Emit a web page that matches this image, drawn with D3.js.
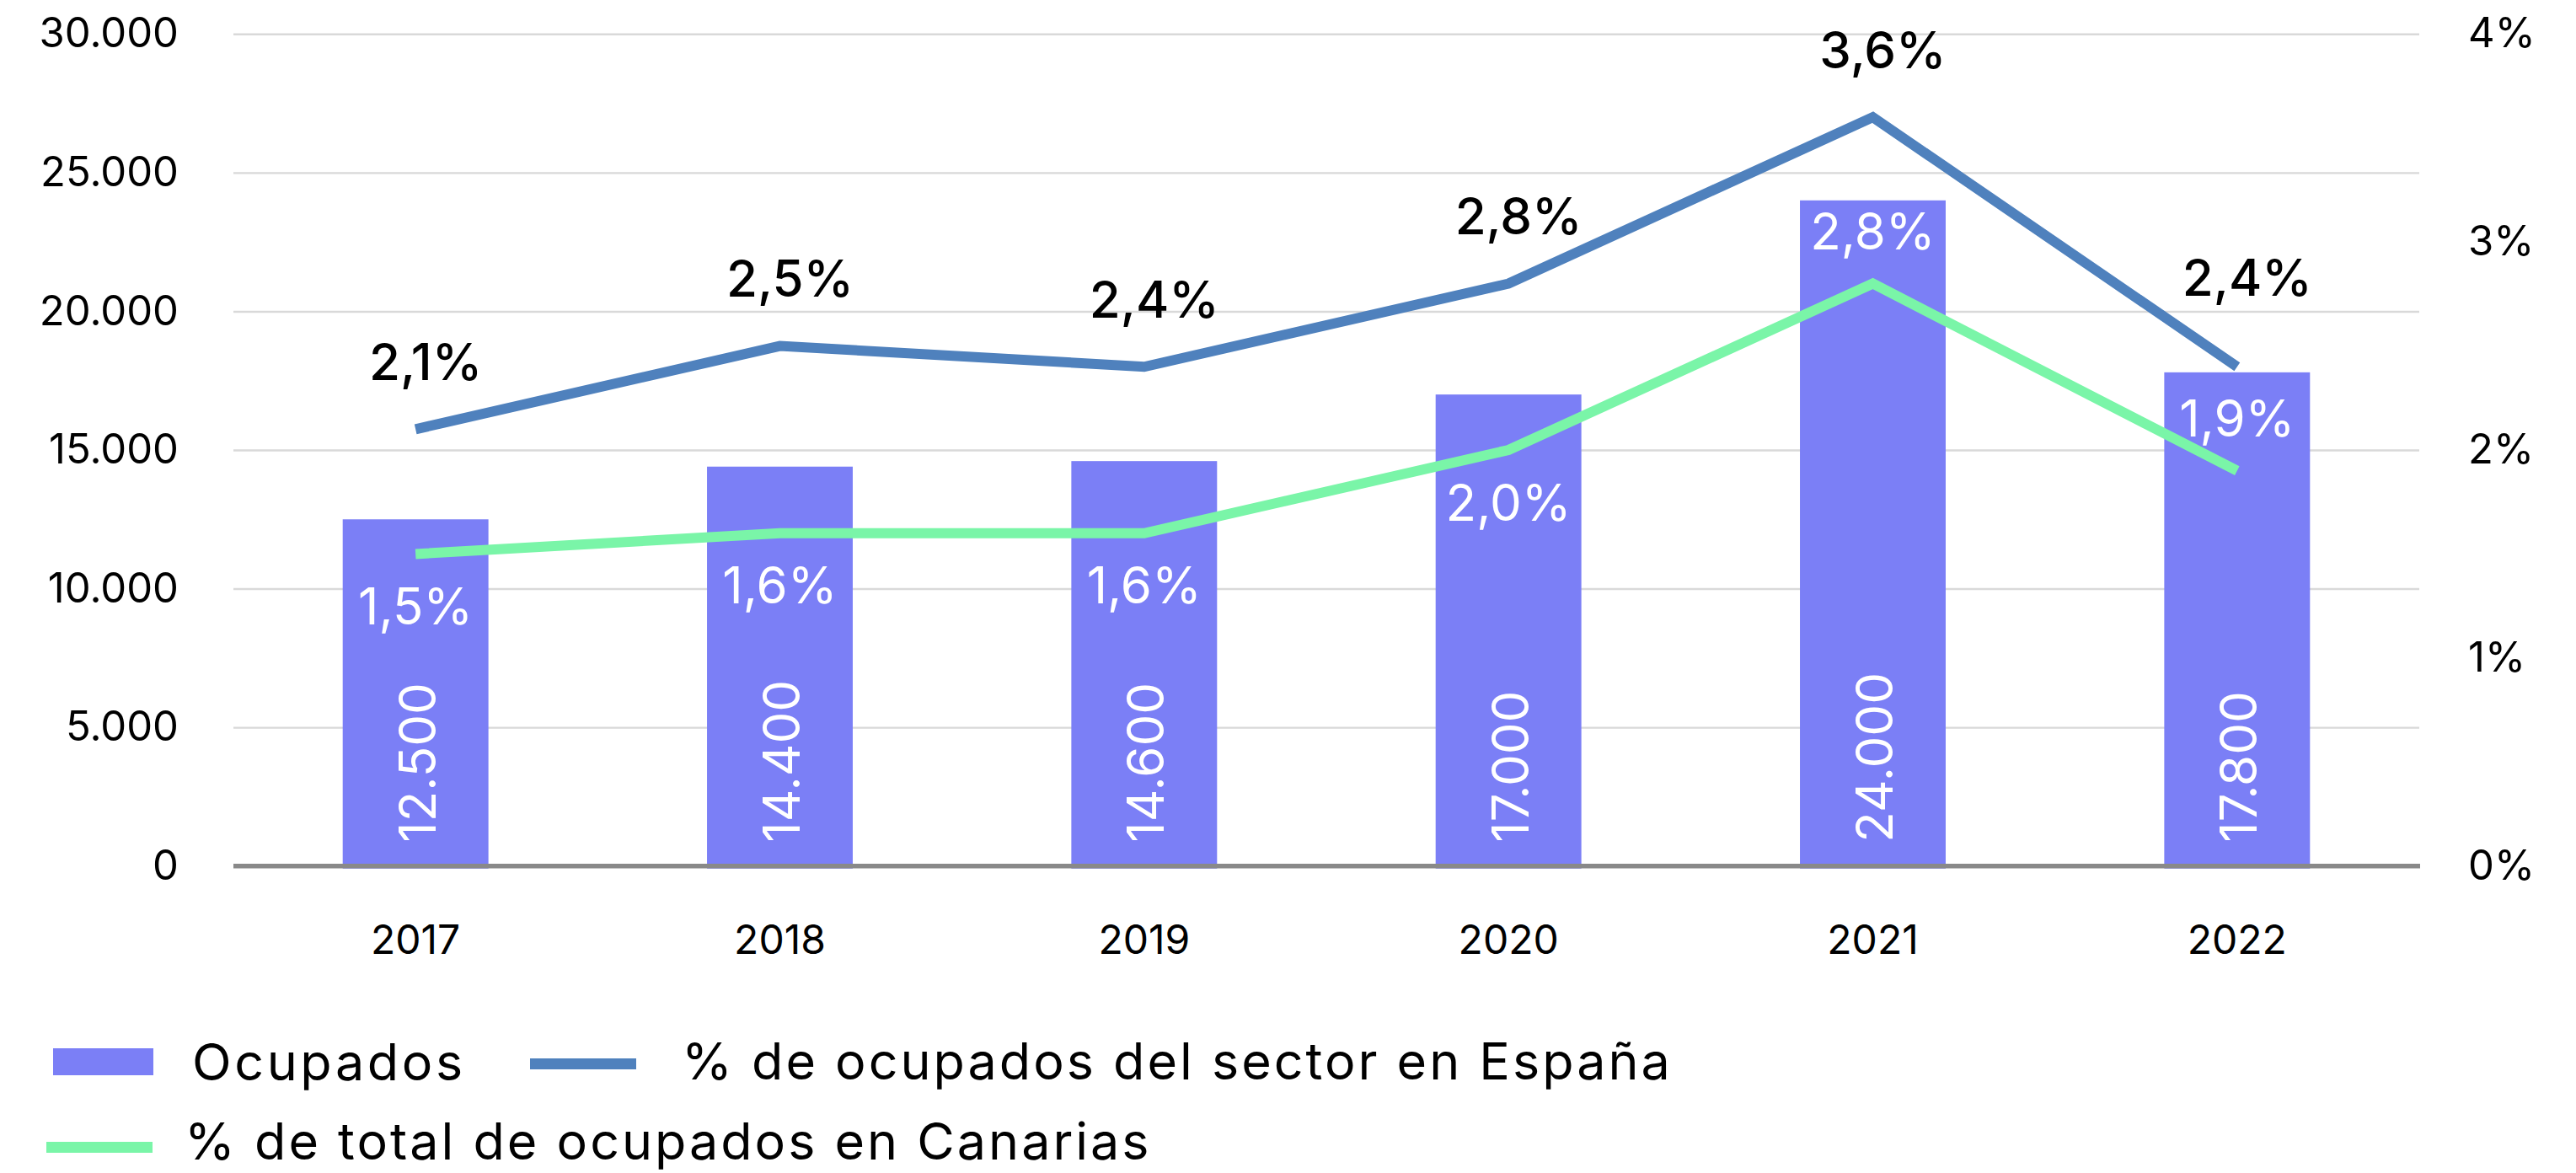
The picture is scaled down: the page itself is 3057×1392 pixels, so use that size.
<!DOCTYPE html>
<html lang="es">
<head>
<meta charset="utf-8">
<script src="https://cdn.jsdelivr.net/npm/d3@7"></script>
<style>
  html, body { margin: 0; padding: 0; background: #ffffff; }
  svg { display: block; font-family: Inter, "Noto Sans", sans-serif; }
</style>
</head>
<body>
<svg id="chart" width="3057" height="1392"></svg>
<script>
// Ocupados del sector y su peso relativo (2017-2022)
const years = ["2017", "2018", "2019", "2020", "2021", "2022"];
const ocupados = [12500, 14400, 14600, 17000, 24000, 17800];
const pctEspana = [2.1, 2.5, 2.4, 2.8, 3.6, 2.4];
const pctCanarias = [1.5, 1.6, 1.6, 2.0, 2.8, 1.9];
const leftTicks = [0, 5000, 10000, 15000, 20000, 25000, 30000];
const rightTicks = [0, 1, 2, 3, 4];
const legendLabels = ["Ocupados", "% de ocupados del sector en España", "% de total de ocupados en Canarias"];

const COLOR_BAR = "#7b7ff6";
const COLOR_ES = "#4f81bd";
const COLOR_CAN = "#7af5a8";

const es = d3.formatLocale({ decimal: ",", thousands: ".", grouping: [3], currency: ["", " €"] });
const fmtInt = es.format(",d");
const fmtPct = v => es.format(".1f")(v) + "%";

const svg = d3.select("#chart");

const plotLeft = 277, plotRight = 2871, plotTop = 40.3, plotBottom = 1027.7;

const x = d3.scaleBand().domain(years).range([plotLeft, plotRight]).paddingInner(0.6).paddingOuter(0.3);
const yL = d3.scaleLinear().domain([0, 30000]).range([plotBottom, plotTop]);
const yR = d3.scaleLinear().domain([0, 4]).range([plotBottom, plotTop]);
const cx = d => x(d) + x.bandwidth() / 2;

// left axis with gridlines
const gL = svg.append("g")
  .attr("transform", `translate(${plotLeft},0)`)
  .call(d3.axisLeft(yL).tickValues(leftTicks).tickSize(-(plotRight - plotLeft)).tickPadding(65).tickFormat(fmtInt));
gL.select(".domain").remove();
gL.selectAll(".tick line").attr("stroke", "#d9d9d9").attr("stroke-width", 2.4)
  .filter(d => d === 0).remove();
gL.selectAll(".tick text").attr("font-size", 49).attr("fill", "#000").attr("font-family", "Inter");

// right axis
const gR = svg.append("g")
  .attr("transform", `translate(${plotRight},0)`)
  .call(d3.axisRight(yR).tickValues(rightTicks).tickSize(0).tickPadding(58).tickFormat(d => d + "%"));
gR.select(".domain").remove();
gR.selectAll(".tick text").attr("font-size", 49).attr("fill", "#000").attr("font-family", "Inter");

// bars
svg.append("g").selectAll("rect")
  .data(years)
  .join("rect")
  .attr("x", d => x(d))
  .attr("width", x.bandwidth())
  .attr("y", (d, i) => yL(ocupados[i]))
  .attr("height", (d, i) => yL(0) - yL(ocupados[i]) + 3)
  .attr("fill", COLOR_BAR);

// category axis
const gX = svg.append("g")
  .attr("transform", `translate(0,${plotBottom})`)
  .call(d3.axisBottom(x).tickSize(0).tickPadding(70));
gX.select(".domain").remove();
gX.selectAll(".tick text").attr("font-size", 48).attr("fill", "#000").attr("font-family", "Inter");

// baseline
svg.append("line")
  .attr("x1", plotLeft).attr("x2", plotRight + 1)
  .attr("y1", yL(0)).attr("y2", yL(0))
  .attr("stroke", "#898989").attr("stroke-width", 5.5);

// bar value labels, rotated at the bar base
svg.append("g").selectAll("text")
  .data(years)
  .join("text")
  .attr("transform", d => `translate(${cx(d) + 2},${yL(0) - 28}) rotate(-90)`)
  .attr("dy", "0.36em")
  .attr("text-anchor", "start")
  .attr("font-size", 60)
  .attr("fill", "#fff")
  .text((d, i) => fmtInt(ocupados[i]));

// lines
const lineGen = vals => d3.line()
  .x((d, i) => cx(years[i]))
  .y(d => yR(d))(vals);

svg.append("path")
  .attr("d", lineGen(pctCanarias))
  .attr("fill", "none")
  .attr("stroke", COLOR_CAN)
  .attr("stroke-width", 12)
  .attr("stroke-linejoin", "miter");

svg.append("path")
  .attr("d", lineGen(pctEspana))
  .attr("fill", "none")
  .attr("stroke", COLOR_ES)
  .attr("stroke-width", 12)
  .attr("stroke-linejoin", "miter");

// labels for the España series, above the line (the last one lifted clear of the falling segment)
svg.append("g").selectAll("text")
  .data(pctEspana)
  .join("text")
  .attr("x", (d, i) => cx(years[i]) + 12)
  .attr("y", (d, i) => yR(d) - (i === pctEspana.length - 1 ? 106 : 80))
  .attr("dy", "0.36em")
  .attr("text-anchor", "middle")
  .attr("font-size", 60)
  .attr("font-weight", 500)
  .attr("fill", "#000")
  .text(d => fmtPct(d));

// labels for the Canarias series: below the line, above it where the line peaks
const canAbove = [false, false, false, false, true, true];
svg.append("g").selectAll("text")
  .data(pctCanarias)
  .join("text")
  .attr("x", (d, i) => cx(years[i]))
  .attr("y", (d, i) => yR(d) + (canAbove[i] ? -62 : 62))
  .attr("dy", "0.36em")
  .attr("text-anchor", "middle")
  .attr("font-size", 60)
  .attr("fill", "#fff")
  .text(d => fmtPct(d));

// legend
const lg = svg.append("g").attr("font-size", 61).attr("fill", "#000").attr("letter-spacing", 3);
lg.append("rect").attr("x", 63).attr("y", 1244).attr("width", 119).attr("height", 32).attr("fill", COLOR_BAR);
lg.append("text").attr("x", 228).attr("y", 1282).attr("letter-spacing", 3.6).text(legendLabels[0]);
lg.append("rect").attr("x", 629).attr("y", 1256).attr("width", 126).attr("height", 13).attr("fill", COLOR_ES);
lg.append("text").attr("x", 809).attr("y", 1281).text(legendLabels[1]);
lg.append("rect").attr("x", 55).attr("y", 1355).attr("width", 126).attr("height", 13).attr("fill", COLOR_CAN);
lg.append("text").attr("x", 219).attr("y", 1376).text(legendLabels[2]);
</script>
</body>
</html>
